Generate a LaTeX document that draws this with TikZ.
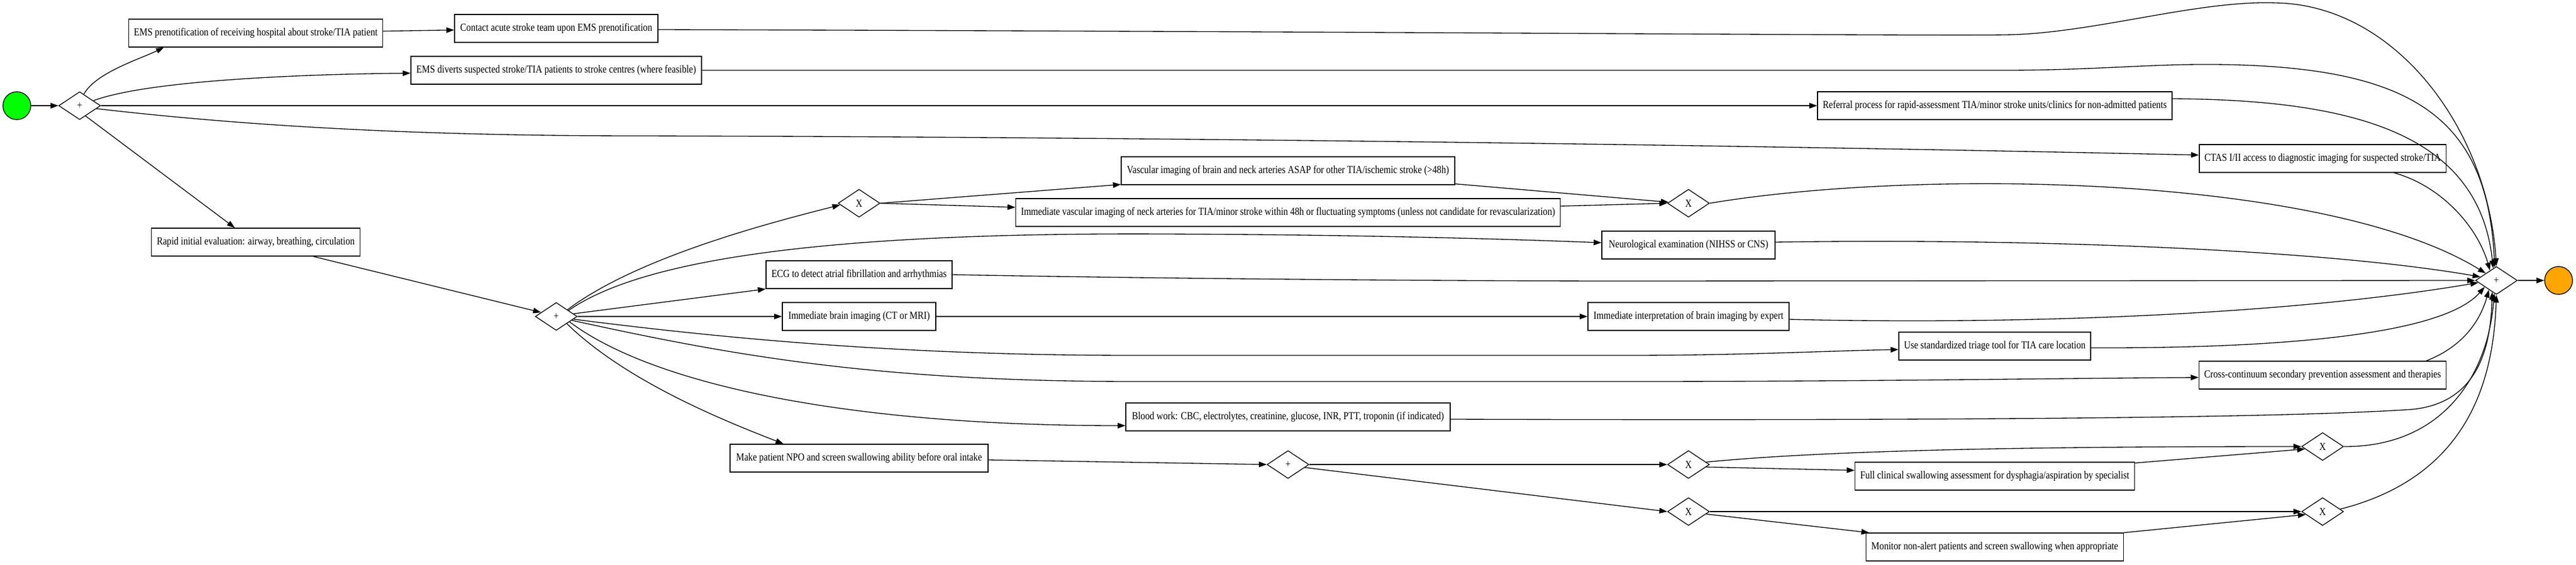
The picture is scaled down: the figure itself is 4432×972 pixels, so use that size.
\documentclass[tikz,border=0pt]{standalone}
\usepackage{fontspec}
\newfontfamily\labfont{Liberation Serif}[FakeStretch=0.84]
\usetikzlibrary{shapes.geometric,arrows.meta,calc}
\definecolor{startgreen}{RGB}{0,255,0}
\definecolor{endorange}{RGB}{255,165,0}
\tikzset{
  task/.style={draw, line width=1.33pt, rectangle, minimum height=48pt, inner xsep=9pt, inner ysep=0pt, fill=white, font=\labfont\fontsize{18.67pt}{22pt}\selectfont},
  gw/.style={draw, line width=1.33pt, diamond, minimum width=72pt, minimum height=48pt, inner sep=0pt, shape aspect=1.5, fill=white, font=\labfont\fontsize{18.67pt}{22pt}\selectfont},
  ev/.style={draw, circle, minimum size=48pt, inner sep=0pt, line width=1.33pt},
  flow/.style={line width=1.33pt, -{Triangle[length=13.5pt,width=9.5pt]}}
}
\begin{document}
\begin{tikzpicture}[x=1pt,y=-1pt]
\useasboundingbox (0,0) rectangle (4432,972);
% nodes
\node[ev, fill=startgreen] (S) at (29,182) {};
\node[gw] (G1) at (137,182) {+};
\node[task, minimum width=436pt] (A1) at (440,57) {EMS prenotification of receiving hospital about stroke/TIA patient};
\node[task, minimum width=350pt] (A2) at (957,49) {Contact acute stroke team upon EMS prenotification};
\node[task, minimum width=500pt] (A3) at (957,121) {EMS diverts suspected stroke/TIA patients to stroke centres (where feasible)};
\node[task, minimum width=608pt] (A4) at (3432,182) {Referral process for rapid-assessment TIA/minor stroke units/clinics for non-admitted patients};
\node[task, minimum width=418pt] (A5) at (3996,273) {CTAS I/II access to diagnostic imaging for suspected stroke/TIA};
\node[task, minimum width=356pt] (A6) at (440,417) {Rapid initial evaluation: airway, breathing, circulation};
\node[gw] (G2) at (957,545) {+};
\node[gw] (X1) at (1478,350) {X};
\node[task, minimum width=574pt] (B1) at (2216,294) {Vascular imaging of brain and neck arteries ASAP for other TIA/ischemic stroke (>48h)};
\node[task, minimum width=934pt] (B2) at (2216,366) {Immediate vascular imaging of neck arteries for TIA/minor stroke within 48h or fluctuating symptoms (unless not candidate for revascularization)};
\node[gw] (X2) at (2905,350) {X};
\node[task, minimum width=298pt] (B3) at (2905,422) {Neurological examination (NIHSS or CNS)};
\node[task, minimum width=320pt] (B4) at (1478,473) {ECG to detect atrial fibrillation and arrhythmias};
\node[task, minimum width=264pt] (B5) at (1478,545) {Immediate brain imaging (CT or MRI)};
\node[task, minimum width=346pt] (B6) at (2905,545) {Immediate interpretation of brain imaging by expert};
\node[task, minimum width=330pt] (B7) at (3432,596) {Use standardized triage tool for TIA care location};
\node[task, minimum width=420pt] (B8) at (3996,646) {Cross-continuum secondary prevention assessment and therapies};
\node[task, minimum width=558pt] (B9) at (2216,718) {Blood work: CBC, electrolytes, creatinine, glucose, INR, PTT, troponin (if indicated)};
\node[task, minimum width=444pt] (B10) at (1478,789) {Make patient NPO and screen swallowing ability before oral intake};
\node[gw] (G3) at (2216,800) {+};
\node[gw] (X3) at (2905,800) {X};
\node[task, minimum width=476pt] (C1) at (3432,820) {Full clinical swallowing assessment for dysphagia/aspiration by specialist};
\node[gw] (X4) at (3996,769) {X};
\node[gw] (X5) at (2905,881) {X};
\node[gw] (X6) at (3996,881) {X};
\node[task, minimum width=440pt] (C2) at (3432,942) {Monitor non-alert patients and screen swallowing when appropriate};
\node[gw] (GE) at (4295,483) {+};
\node[ev, fill=endorange] (E) at (4402,483) {};
% edges
\draw[flow] (S) -- (G1);
\draw[flow] (G1.70) .. controls (165,125) and (240,102) .. ($(A1.south)+(-158,0)$);
\draw[flow] (A1) -- (A2);
\draw[flow] ($(A2.east)+(0,2)$) .. controls (2500,55) and (3300,62) .. (3450,60) .. controls (3600,58) and (3780,0) .. (3915,5) .. controls (4120,8) and (4280,220) .. (GE.north);
\draw[flow] (G1.20) .. controls (250,140) and (500,128) .. ($(A3.west)+(0,5)$);
\draw[flow] (A3.east) -- (3450,121) .. controls (3600,121) and (3700,110) .. (3810,111) .. controls (4150,114) and (4280,200) .. ($(GE.north)!0.08!(GE.west)$);
\draw[flow] (G1) -- (A4);
\draw[flow] ($(A4.east)+(0,-12)$) .. controls (4050,172) and (4265,230) .. ($(GE.north)!0.15!(GE.west)$);
\draw[flow] (G1.-10) .. controls (450,220) and (750,234) .. (1100,234) .. controls (2000,236) and (3000,250) .. ($(A5.west)+(0,-6)$);
\draw[flow] ($(A5.south)+(123,0)$) .. controls (4200,320) and (4262,390) .. ($(GE.north)!0.3!(GE.west)$);
\draw[flow] (G1.-60) -- ($(A6.north)+(-36,0)$);
\draw[flow] ($(A6.south)+(99,0)$) -- (G2.165);
\draw[flow] (G2.31) .. controls (1100,440) and (1340,380) .. (X1.185);
\draw[flow] (X1.east) -- ($(B1.south west)+(0,-1)$);
\draw[flow] (X1.east) -- ($(B2.west)+(0,-9)$);
\draw[flow] ($(B1.south east)+(0,-2)$) -- (X2.177);
\draw[flow] ($(B2.east)+(0,-11)$) -- (X2.west);
\draw[flow] (X2.east) .. controls (3300,290) and (4000,300) .. ($(GE.north)!0.5!(GE.west)$);
\draw[flow] (G2.26) .. controls (1100,450) and (1400,400) .. (2000,403) .. controls (2300,404) and (2550,410) .. ($(B3.west)+(0,-4)$);
\draw[flow] ($(B3.east)+(0,-5)$) .. controls (3500,410) and (4000,430) .. ($(GE.north)!0.75!(GE.west)$);
\draw[flow] (G2.9) -- (B4.south west);
\draw[flow] (B4.east) .. controls (2000,480) and (2500,484) .. (2800,484) -- (GE.west);
\draw[flow] (G2) -- (B5);
\draw[flow] (B5) -- (B6);
\draw[flow] ($(B6.east)+(0,5)$) .. controls (3500,560) and (3950,540) .. ($(GE.west)!0.15!(GE.south)$);
\draw[flow] (G2.-9) .. controls (1300,590) and (1600,612) .. (1950,612) -- (2800,612) .. controls (3000,612) and (3150,604) .. ($(B7.west)+(0,6)$);
\draw[flow] ($(B7.east)+(0,3)$) .. controls (3900,600) and (4200,580) .. ($(GE.west)!0.45!(GE.south)$);
\draw[flow] (G2.-14) .. controls (1250,610) and (1500,657) .. (1950,657) -- (2800,657) .. controls (3200,657) and (3500,652) .. ($(B8.west)+(0,4)$);
\draw[flow] ($(B8.north east)+(-35,0)$) .. controls (4230,600) and (4265,560) .. ($(GE.west)!0.65!(GE.south)$);
\draw[flow] (G2.-22) .. controls (1120,660) and (1450,733) .. ($(B9.west)+(0,15)$);
\draw[flow] ($(B9.east)+(0,4)$) .. controls (3200,724) and (3900,722) .. (4150,705) .. controls (4250,695) and (4285,620) .. ($(GE.west)!0.8!(GE.south)$);
\draw[flow] (G2.-34) .. controls (1080,660) and (1260,730) .. ($(B10.north)+(-130,0)$);
\draw[flow] ($(B10.east)+(0,3)$) -- (G3.west);
\draw[flow] (G3) -- (X3);
\draw[flow] (G3.-10) -- (X5.west);
\draw[flow] (X3.8) .. controls (3150,775) and (3500,769) .. (X4.west);
\draw[flow] (X3.-8) -- ($(C1.west)+(0,-10)$);
\draw[flow] ($(C1.north east)+(0,2)$) -- (X4.188);
\draw[flow] (X4.east) .. controls (4200,770) and (4280,650) .. ($(GE.west)!0.9!(GE.south)$);
\draw[flow] (X5) -- (X6);
\draw[flow] (X5.-8) -- ($(C2.north west)+(6,0)$);
\draw[flow] (C2.north east) -- (X6.190);
\draw[flow] (X6.8) .. controls (4250,820) and (4290,650) .. (GE.south);
\draw[flow] (GE) -- (E);
\end{tikzpicture}
\end{document}
